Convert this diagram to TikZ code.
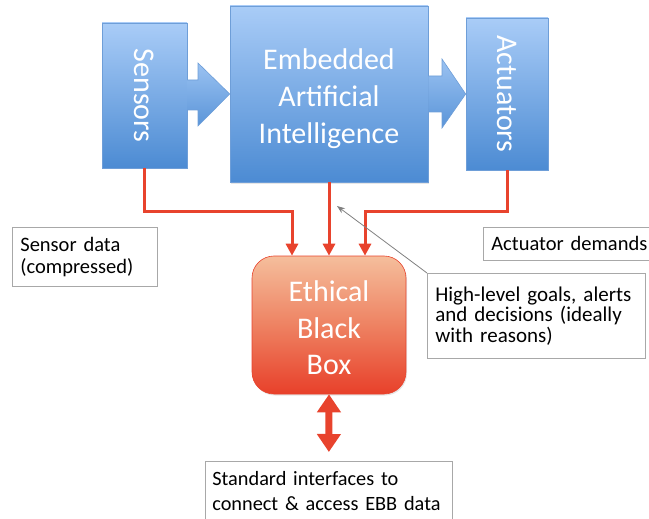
\documentclass[tikz,border=0pt]{standalone}
\usepackage{fontspec}
\setmainfont{Carlito}
\usepackage{xcolor}
\usepackage{graphicx}
\usepackage{tikz}
\usetikzlibrary{arrows.meta,shadows}

\definecolor{bluetop}{HTML}{A9CCF7}
\definecolor{bluebot}{HTML}{4C8BD3}
\definecolor{blueedge}{HTML}{6E9ED8}
\definecolor{ebbtop}{HTML}{F5BE9C}
\definecolor{ebbmid}{HTML}{EE8262}
\definecolor{ebbbot}{HTML}{E8402A}
\definecolor{redline}{HTML}{E8432D}
\definecolor{boxedge}{HTML}{A8A8A8}

\newcommand{\stack}[2][0pt]{\raisebox{#1}[\height][\depth]{\begin{tabular}{@{}c@{}}#2\end{tabular}}}

\begin{document}
\begin{tikzpicture}[x=1pt,y=-1pt,
    bluebox/.style={draw=blueedge,line width=0.6pt,top color=bluetop,bottom color=bluebot,
      text=white,font=\fontsize{30}{37}\selectfont,inner sep=0pt,
      drop shadow={opacity=0.2,shadow xshift=1pt,shadow yshift=-1.5pt}},
    blockarrow/.style={draw=blueedge,line width=0.6pt,top color=bluetop!85!bluebot,bottom color=bluebot!85!bluetop},
    lbl/.style={draw=boxedge,line width=0.7pt,fill=white,font=\fontsize{20.5}{22.5}\selectfont,
      align=left,anchor=north west,inner xsep=8pt,inner ysep=0pt},
    feed/.style={draw=redline,line width=3pt,-{Triangle[width=12pt,length=12pt]}}]
\useasboundingbox (0,0) rectangle (649,519);

\node[bluebox,minimum width=85pt,minimum height=145pt] (sens) at (144.5,95.5) {\rotatebox{-90}{Sensors}};
\node[bluebox,minimum width=198pt,minimum height=176pt] (eai) at (329,94)
    {\stack[-5pt]{Embedded\\Artificial\\Intelligence}};
\node[bluebox,minimum width=82pt,minimum height=152pt] (act) at (507,94) {\rotatebox{-90}{Actuators}};

\draw[blockarrow] (sens.east |- 0,80) -- (198,80) -- (198,63) -- (eai.west)
    -- (198,126) -- (198,110) -- (sens.east |- 0,110);
\draw[blockarrow] (eai.east |- 0,76) -- (442,76) -- (442,59) -- (act.west)
    -- (442,128) -- (442,112) -- (eai.east |- 0,112);

\node[draw=redline,line width=0.6pt,rounded corners=22pt,top color=ebbtop,bottom color=ebbbot,middle color=ebbmid,
    minimum width=154pt,minimum height=138pt,inner sep=0pt,text=white,font=\fontsize{30}{36.5}\selectfont,
    drop shadow={opacity=0.2,shadow xshift=1pt,shadow yshift=-1.5pt}] (ebb) at (329,325)
    {\stack[-6pt]{Ethical\\Black\\Box}};

\node[lbl,text width=129pt,minimum height=59pt] (sdata) at (12,227) {Sensor data\\(compressed)};
\node[lbl,text width=165pt,minimum height=33pt] (adem) at (483,227) {Actuator demands};
\node[lbl,text width=202pt,minimum height=85pt,font=\fontsize{21}{20.5}\selectfont] (hl) at (427,273)
    {High-level goals, alerts\\and decisions (ideally\\with reasons)};
\node[lbl,text width=233pt,inner xsep=7pt,minimum height=60pt,font=\fontsize{20.3}{25}\selectfont] (std) at (205,461)
    {Standard interfaces to\\connect \& access EBB data};

\coordinate (bus) at (0,211);
\coordinate (hltip) at (337,206);
\draw[feed] (sens.south) -- (sens.south |- bus) -| ([xshift=-37pt]ebb.north);
\draw[feed] (eai.south) -- (ebb.north);
\draw[feed] (act.south) -- (act.south |- bus) -| ([xshift=36pt]ebb.north);
\draw[gray,line width=0.8pt,-{Stealth[length=8pt,width=6pt]}] (hl.north west) -- (hltip);

\draw[draw=redline,line width=7pt,{Triangle[width=23pt,length=18pt]}-{Triangle[width=23pt,length=18pt]},
    shorten >=9pt] (ebb.south) -- (std.north);
\end{tikzpicture}
\end{document}
